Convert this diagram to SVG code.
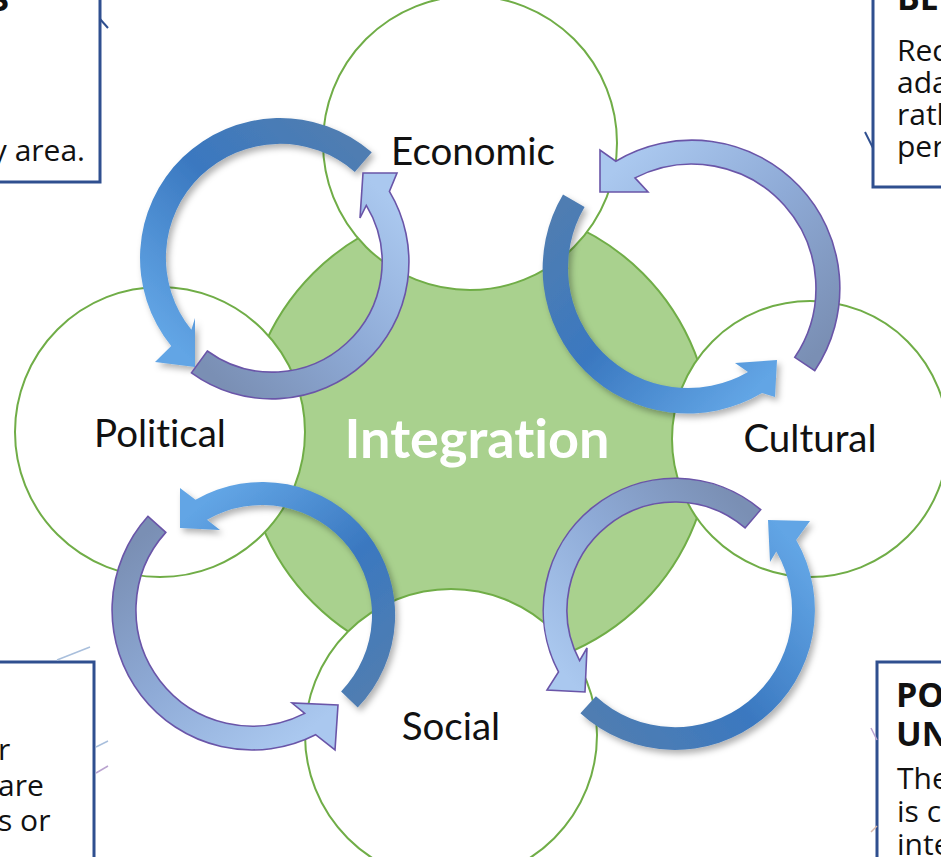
<svg xmlns="http://www.w3.org/2000/svg" width="941" height="857" viewBox="0 0 941 857">
<style>
.ring{fill:#ffffff;stroke:#70ad47;stroke-width:2}
.core{fill:#a9d18e;stroke:#70ad47;stroke-width:2}
.lbl{font-family:Lato,"Open Sans","Liberation Sans",sans-serif;font-size:38.5px;fill:#111111;text-anchor:middle;font-variant-ligatures:none}
.big{font-family:Lato,"Open Sans","Liberation Sans",sans-serif;font-size:54px;font-weight:700;fill:#ffffff;text-anchor:middle;font-variant-ligatures:none}
.box{fill:#ffffff;stroke:#2f4f8f;stroke-width:3}
.bt{font-family:"Open Sans","Noto Sans","Liberation Sans",sans-serif;font-size:30px;fill:#111111}
.bb{font-family:"Open Sans","Noto Sans","Liberation Sans",sans-serif;font-size:34px;font-weight:700;fill:#111111}
.dark{filter:url(#sh)}
.light{stroke:#6a55a8;stroke-width:1.6;stroke-linejoin:miter}
.faint{stroke-width:1.5;fill:none}
</style>
<defs>
<filter id="sh" x="-20%" y="-20%" width="140%" height="140%">
<feDropShadow dx="3" dy="4" stdDeviation="3" flood-color="#000000" flood-opacity="0.3"/>
</filter>
<linearGradient id="gd1" gradientUnits="userSpaceOnUse" x1="362" y1="162" x2="180" y2="350"><stop offset="0" stop-color="#4f7db2"/><stop offset="0.45" stop-color="#3a78c0"/><stop offset="1" stop-color="#62a5e5"/></linearGradient>
<linearGradient id="gl1" gradientUnits="userSpaceOnUse" x1="200" y1="362" x2="380" y2="190"><stop offset="0" stop-color="#7a8fb4"/><stop offset="0.5" stop-color="#8eaad6"/><stop offset="1" stop-color="#aac8ef"/></linearGradient>
<linearGradient id="gl2" gradientUnits="userSpaceOnUse" x1="805" y1="364" x2="615" y2="170"><stop offset="0" stop-color="#7a8fb4"/><stop offset="0.5" stop-color="#8eaad6"/><stop offset="1" stop-color="#aac8ef"/></linearGradient>
<linearGradient id="gd2" gradientUnits="userSpaceOnUse" x1="574" y1="200" x2="765" y2="380"><stop offset="0" stop-color="#4f7db2"/><stop offset="0.45" stop-color="#3a78c0"/><stop offset="1" stop-color="#62a5e5"/></linearGradient>
<linearGradient id="gd3" gradientUnits="userSpaceOnUse" x1="350" y1="700" x2="195" y2="510"><stop offset="0" stop-color="#4f7db2"/><stop offset="0.45" stop-color="#3a78c0"/><stop offset="1" stop-color="#62a5e5"/></linearGradient>
<linearGradient id="gl3" gradientUnits="userSpaceOnUse" x1="157" y1="524" x2="315" y2="725"><stop offset="0" stop-color="#7a8fb4"/><stop offset="0.5" stop-color="#8eaad6"/><stop offset="1" stop-color="#aac8ef"/></linearGradient>
<linearGradient id="gl4" gradientUnits="userSpaceOnUse" x1="752" y1="518" x2="565" y2="675"><stop offset="0" stop-color="#7a8fb4"/><stop offset="0.5" stop-color="#8eaad6"/><stop offset="1" stop-color="#aac8ef"/></linearGradient>
<linearGradient id="gd4" gradientUnits="userSpaceOnUse" x1="588" y1="705" x2="790" y2="540"><stop offset="0" stop-color="#4f7db2"/><stop offset="0.45" stop-color="#3a78c0"/><stop offset="1" stop-color="#62a5e5"/></linearGradient>
</defs>
<rect x="0" y="0" width="941" height="857" fill="#ffffff"/>

<g id="box-top-left">
<rect class="box" x="-10" y="-10" width="110" height="192"/>
<text class="bb" x="9" y="11" text-anchor="end">S</text>
<text class="bt" x="85" y="161" text-anchor="end">y area.</text>
<line x1="100" y1="19" x2="108" y2="28" stroke="#2f4f8f" stroke-width="2"/>
</g>
<g id="box-top-right">
<rect class="box" x="873" y="-10" width="80" height="197"/>
<text class="bb" x="897" y="10">BE</text>
<text class="bt" x="897" y="61">Rec</text>
<text class="bt" x="897" y="93">ada</text>
<text class="bt" x="897" y="125">rath</text>
<text class="bt" x="897" y="157">per</text>
<line x1="865" y1="132" x2="873" y2="148" stroke="#2f4f8f" stroke-width="2"/>
</g>
<g id="box-bottom-left">
<rect class="box" x="-10" y="662" width="104" height="210"/>
<text class="bt" x="-2" y="760">r</text>
<text class="bt" x="-2" y="796">are</text>
<text class="bt" x="-2" y="831">s or</text>
<line class="faint" x1="57" y1="660" x2="90" y2="647" stroke="#a9bfdc"/>
<line class="faint" x1="96" y1="747" x2="108" y2="741" stroke="#a9bfdc"/>
<line class="faint" x1="96" y1="773" x2="108" y2="766" stroke="#b9a3cf"/>
</g>
<g id="box-bottom-right">
<rect class="box" x="877" y="662" width="80" height="210"/>
<text class="bb" x="896" y="707">PO</text>
<text class="bb" x="896" y="746">UN</text>
<text class="bt" x="897" y="789">The</text>
<text class="bt" x="897" y="822">is c</text>
<text class="bt" x="897" y="855">inte</text>
<line class="faint" x1="871" y1="728" x2="877" y2="740" stroke="#b9a3cf"/>
<line class="faint" x1="871" y1="832" x2="877" y2="826" stroke="#d8b8a8"/>
</g>

<g id="integration">
<circle class="core" cx="478" cy="438" r="233"/>
</g>
<g id="economic">
<circle class="ring" cx="470" cy="143" r="147"/>
<text class="lbl" x="473" y="165">Economic</text>
</g>
<g id="political">
<circle class="ring" cx="160" cy="432" r="145"/>
<text class="lbl" x="160" y="447">Political</text>
</g>
<g id="cultural">
<circle class="ring" cx="810" cy="439" r="138"/>
<text class="lbl" x="810" y="452">Cultural</text>
</g>
<g id="social">
<circle class="ring" cx="451" cy="735" r="146"/>
<text class="lbl" x="451" y="740">Social</text>
</g>
<g id="integration-label">
<text class="big" x="477" y="458">Integration</text>
</g>

<g id="connectors">
<path class="dark" fill="url(#gd1)" d="M371.8,152.3 A140,140 0 0 0 171.2,346.1 L155,362 L195,367 L195,318 L191.4,329.7 A114,114 0 0 1 354.8,171.9 Z"/>
<path class="light" fill="url(#gl1)" d="M191.5,372.8 A137,137 0 0 0 389.4,191.4 L397,173 L363,173 L360,218 L366.3,205.3 A110,110 0 0 1 207.3,351 Z"/>
<path class="dark" fill="url(#gd2)" d="M563,194.4 A145,145 0 0 0 762,393 L775,397 L777,360 L735,363 L748,371.9 A120,120 0 0 1 584.6,207.1 Z"/>
<path class="light" fill="url(#gl2)" d="M814.7,370.7 A148,148 0 0 0 615.8,161.2 L600,150 L600,192 L648,192 L635,177.9 A124,124 0 0 1 794.8,357.3 Z"/>
<path class="dark" fill="url(#gd3)" d="M357.7,707.4 A133,133 0 0 0 195.5,499.8 L180,488 L180,528 L220,530 L207,519.7 A110,110 0 0 1 341.1,691.4 Z"/>
<path class="light" fill="url(#gl3)" d="M148,516.3 A140,140 0 0 0 315.6,734.7 L335,750 L338,705 L292,703 L304.7,713.4 A116,116 0 0 1 165.8,532.4 Z"/>
<path class="light" fill="url(#gl4)" d="M760.7,509.7 A132,132 0 0 0 558.5,671.9 L547,690 L585,692 L587,648 L579.6,660.7 A108,108 0 0 1 745.1,527.9 Z"/>
<path class="dark" fill="url(#gd4)" d="M580.4,713.2 A140,140 0 0 0 796.2,540 L810,521 L768,520 L770,562 L776.3,551.5 A117,117 0 0 1 595.9,696.3 Z"/>
</g>
</svg>
